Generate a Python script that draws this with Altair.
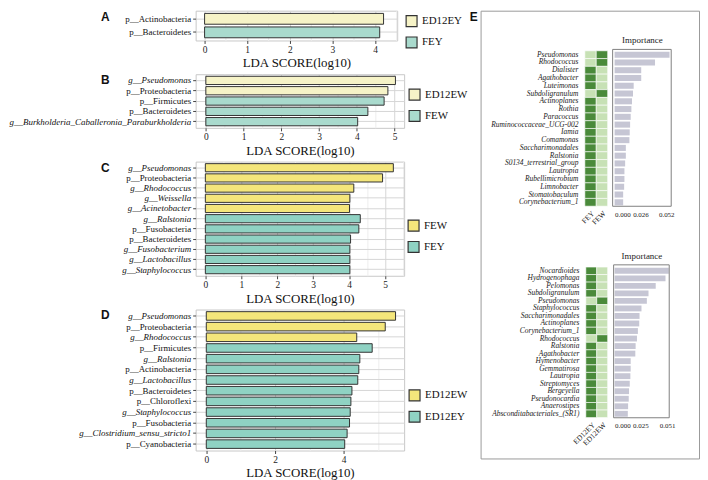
import altair as alt
import pandas as pd

SERIF = "Liberation Serif"
SANS = "Liberation Sans"

# ---------------- Panel A ----------------
A_taxa = ["p__Actinobacteria", "p__Bacteroidetes"]
A_lda = [4.20, 4.11]
A_group = ["ED12EY", "FEY"]
A_legend = ["ED12EY", "FEY"]

# ---------------- Panel B ----------------
B_taxa = ["g__Pseudomonas", "p__Proteobacteria", "p__Firmicutes", "p__Bacteroidetes",
          "g__Burkholderia_Caballeronia_Paraburkholderia"]
B_lda = [5.02, 4.82, 4.72, 4.29, 4.02]
B_group = ["ED12EW", "ED12EW", "FEW", "FEW", "FEW"]
B_legend = ["ED12EW", "FEW"]

# ---------------- Panel C ----------------
C_taxa = ["g__Pseudomonas", "p__Proteobacteria", "g__Rhodococcus", "g__Weissella",
          "g__Acinetobacter", "g__Ralstonia", "p__Fusobacteria", "p__Bacteroidetes",
          "g__Fusobacterium", "g__Lactobacillus", "g__Staphylococcus"]
C_lda = [5.23, 4.93, 4.13, 4.02, 4.01, 4.31, 4.27, 4.04, 4.02, 4.02, 4.02]
C_group = ["FEW", "FEW", "FEW", "FEW", "FEW", "FEY", "FEY", "FEY", "FEY", "FEY", "FEY"]
C_legend = ["FEW", "FEY"]

# ---------------- Panel D ----------------
D_taxa = ["g__Pseudomonas", "p__Proteobacteria", "g__Rhodococcus", "p__Firmicutes",
          "g__Ralstonia", "p__Actinobacteria", "g__Lactobacillus", "p__Bacteroidetes",
          "p__Chloroflexi", "g__Staphylococcus", "p__Fusobacteria",
          "g__Clostridium_sensu_stricto1", "p__Cyanobacteria"]
D_lda = [5.51, 5.21, 4.38, 4.83, 4.47, 4.44, 4.41, 4.24, 4.21, 4.19, 4.17, 4.10, 4.03]
D_group = ["ED12EW", "ED12EW", "ED12EW", "ED12EY", "ED12EY", "ED12EY", "ED12EY",
           "ED12EY", "ED12EY", "ED12EY", "ED12EY", "ED12EY", "ED12EY"]
D_legend = ["ED12EW", "ED12EY"]

# ---------------- Panel E (top) ----------------
E1_taxa = ["Pseudomonas", "Rhodococcus", "Dialister", "Agathobacter", "Luteimonas",
           "Subdoligranulum", "Actinoplanes", "Rothia", "Paracoccus",
           "Ruminococcaceae_UCG-002", "Iamia", "Comamonas", "Saccharimonadales",
           "Ralstonia", "S0134_terrestrial_group", "Lautropia", "Rubellimicrobium",
           "Limnobacter", "Stomatobaculum", "Corynebacterium_1"]
E1_importance = [0.0553, 0.0407, 0.0268, 0.0268, 0.0192, 0.0185, 0.0175, 0.0169, 0.0162,
                 0.0156, 0.0152, 0.0149, 0.0113, 0.0113, 0.0106, 0.0099, 0.0099, 0.0096,
                 0.0086, 0.0086]
E1_enriched = ["FEW", "FEW", "FEY", "FEY", "FEY", "FEW", "FEY", "FEY", "FEY", "FEY",
               "FEY", "FEY", "FEY", "FEY", "FEY", "FEY", "FEY", "FEY", "FEY", "FEY"]
E1_cols = ["FEY", "FEW"]
E1_ticks = [0.0, 0.026, 0.052]

# ---------------- Panel E (bottom) ----------------
E2_taxa = ["Nocardioides", "Hydrogenophaga", "Pelomonas", "Subdoligranulum", "Pseudomonas",
           "Staphylococcus", "Saccharimonadales", "Actinoplanes", "Corynebacterium_1",
           "Rhodococcus", "Ralstonia", "Agathobacter", "Hymenobacter", "Gemmatirosa",
           "Lautropia", "Streptomyces", "Bergeyella", "Pseudonocardia", "Anaerostipes",
           "Absconditabacteriales_(SR1)"]
E2_importance = [0.0526, 0.0494, 0.0399, 0.0329, 0.0313, 0.0261, 0.0242, 0.0239, 0.0226,
                 0.0217, 0.0204, 0.0201, 0.0156, 0.0156, 0.0153, 0.0147, 0.0140, 0.0137,
                 0.0131, 0.0128]
E2_enriched = ["ED12EY", "ED12EY", "ED12EY", "ED12EY", "ED12EW", "ED12EY", "ED12EY",
               "ED12EY", "ED12EY", "ED12EW", "ED12EY", "ED12EY", "ED12EY", "ED12EY",
               "ED12EY", "ED12EY", "ED12EY", "ED12EY", "ED12EY", "ED12EY"]
E2_cols = ["ED12EY", "ED12EW"]
E2_ticks = [0.0, 0.025, 0.051]

PALE = ["#f6f3c7", "#a9dacd"]
BRIGHT = ["#f4e67b", "#8fd2c3"]
DARK_GREEN = "#4a8a3a"
LIGHT_GREEN = "#c7e1b5"
BAR_GRAY = "#c6c6d4"


def lda_panel(letter, taxa, vals, groups, legend_domain, colors, xdomain, xvalues, major,
              width, height, legend_x, legend_y):
    df = pd.DataFrame({"taxon": taxa, "lda": vals, "group": groups})
    minor = f"datum.value % {major} != 0"
    bars = alt.Chart(df).mark_bar(stroke="#333333", strokeWidth=1).encode(
        x=alt.X("lda:Q", scale=alt.Scale(domain=xdomain, nice=False, zero=False),
                axis=alt.Axis(title="LDA SCORE(log10)", values=xvalues,
                              labelExpr=f"datum.value % {major} == 0 ? format(datum.value, 'd') : ''",
                              labelOverlap=False, labelFont=SERIF, labelFontSize=9.5,
                              labelColor="#222", labelPadding=1, ticks=True, tickSize=3,
                              tickColor="#444",
                              tickOpacity={"condition": {"test": minor, "value": 0}, "value": 1},
                              grid=True,
                              gridColor={"condition": {"test": minor, "value": "#ededed"},
                                         "value": "#d6d6d6"},
                              domain=False, titleFont=SERIF, titleFontSize=13,
                              titleFontWeight="normal", titleColor="#111", titlePadding=3)),
        y=alt.Y("taxon:N", scale=alt.Scale(domain=taxa, paddingInner=0.2, paddingOuter=0.2),
                axis=alt.Axis(title=None, bandPosition=0.5, grid=True, gridColor="#d6d6d6",
                              ticks=True, tickSize=3, tickColor="#444", domain=False,
                              labelFont=SERIF, labelFontSize=9, labelColor="#111",
                              labelPadding=2, labelLimit=400,
                              labelFontStyle={"condition": {"test": "indexof(datum.value, 'g__') == 0",
                                                            "value": "italic"},
                                              "value": "normal"})),
        color=alt.Color("group:N", scale=alt.Scale(domain=legend_domain, range=colors),
                        legend=alt.Legend(title=None, orient="none", legendX=legend_x,
                                          legendY=legend_y, symbolType="square", symbolSize=121,
                                          symbolStrokeColor="#333", symbolStrokeWidth=1.2,
                                          labelFont=SERIF, labelFontSize=11, labelColor="#111",
                                          rowPadding=4.5, labelOffset=4, padding=0)),
    )
    tag = alt.Chart(pd.DataFrame({"t": [letter]})).mark_text(
        font=SANS, fontWeight="bold", fontSize=12, align="center", baseline="middle",
        color="#111").encode(text="t:N", x=alt.value(-91), y=alt.value(6))
    return alt.layer(bars, tag).properties(
        width=width, height=height,
        view=alt.ViewBackground(stroke="#c8c8c8", strokeWidth=1))


pA = lda_panel("A", A_taxa, A_lda, A_group, A_legend, PALE, [-0.21, 4.52],
               [i * 0.5 for i in range(10)], 1, 203, 30, 211, 4)
pB = lda_panel("B", B_taxa, B_lda, B_group, B_legend, PALE, [-0.27, 5.25],
               [i * 0.5 for i in range(11)], 1, 210, 54, 214, 14)
pC = lda_panel("C", C_taxa, C_lda, C_group, C_legend, BRIGHT, [-0.27, 5.53],
               [i * 0.5 for i in range(12)], 1, 210, 115, 213, 58)
pD = lda_panel("D", D_taxa, D_lda, D_group, D_legend, BRIGHT, [-0.31, 5.76],
               [0, 1, 2, 3, 4, 5], 2, 210, 142, 214, 80)

left = alt.vconcat(pA, pB, pC, pD, spacing=34, bounds="flush").resolve_scale(
    color="independent", x="independent", y="independent")


def heat_df(taxa, enriched, cols):
    rows = []
    for t, e in zip(taxa, enriched):
        for c in cols:
            rows.append({"taxon": t, "col": c, "level": "high" if e == c else "low"})
    return pd.DataFrame(rows)


E_W, E_H = 220, 451


def e_block(taxa, importance, enriched, cols, ticks, heat_x, heat_y, bar_x, bar_max,
            box, axis_y, title_y):
    hd = heat_df(taxa, enriched, cols)
    heat = alt.Chart(hd).mark_rect(stroke="white", strokeWidth=0.6).encode(
        x=alt.X("col:N", scale=alt.Scale(domain=cols, range=heat_x, paddingInner=0,
                                         paddingOuter=0),
                axis=alt.Axis(orient="bottom", offset=-(E_H - axis_y), labelAngle=-45,
                              ticks=False, tickSize=0, domain=False, grid=False, title=None,
                              labelFont=SERIF, labelFontSize=7.5, labelColor="#222",
                              labelPadding=2)),
        y=alt.Y("taxon:N", scale=alt.Scale(domain=taxa, range=heat_y, paddingInner=0,
                                           paddingOuter=0),
                axis=alt.Axis(orient="left", offset=-heat_x[0], ticks=False, tickSize=0,
                              domain=False, grid=False, title=None, labelFontStyle="italic",
                              labelFont=SERIF, labelFontSize=7.5, labelColor="#222",
                              labelPadding=7, labelLimit=300)),
        color=alt.Color("level:N", scale=alt.Scale(domain=["high", "low"],
                                                   range=[DARK_GREEN, LIGHT_GREEN]),
                        legend=None),
    )
    bd = pd.DataFrame({"taxon": taxa, "imp": importance})
    bars = alt.Chart(bd).mark_bar(color=BAR_GRAY).encode(
        x=alt.X("imp:Q", scale=alt.Scale(domain=[0, bar_max], range=bar_x, nice=False,
                                         zero=True),
                axis=alt.Axis(orient="bottom", offset=-(E_H - axis_y), values=ticks,
                              format=".3f", ticks=False, tickSize=0, domain=False, grid=False,
                              title=None, labelFont=SERIF, labelFontSize=7, labelColor="#222",
                              labelPadding=3, labelOverlap=False)),
        y=alt.Y("taxon:N", scale=alt.Scale(domain=taxa, range=heat_y, paddingInner=0.22,
                                           paddingOuter=0.11), axis=None),
    )
    one = pd.DataFrame({"t": ["Importance"]})
    frame = alt.Chart(one).mark_rect(fillOpacity=0, stroke="#808080", strokeWidth=1).encode(
        x=alt.value(box[0]), x2=alt.value(box[1]), y=alt.value(box[2]), y2=alt.value(box[3]))
    title = alt.Chart(one).mark_text(font=SERIF, fontSize=9, color="#222", align="center",
                                     baseline="middle").encode(
        text="t:N", x=alt.value((box[0] + box[1]) / 2 + 0.5), y=alt.value(title_y))
    return [heat, bars, frame, title]


top_layers = e_block(E1_taxa, E1_importance, E1_enriched, E1_cols, E1_ticks,
                     [105, 128], [40.4, 196.9], [135, 192], 0.057,
                     (133, 192, 39, 197), 198, 30)
bot_layers = e_block(E2_taxa, E2_importance, E2_enriched, E2_cols, E2_ticks,
                     [106, 128], [258.2, 409.8], [135, 190.5], 0.0535,
                     (134, 190, 256, 410), 411, 247)

e_tag = alt.Chart(pd.DataFrame({"t": ["E"]})).mark_text(
    font=SANS, fontWeight="bold", fontSize=12, align="center", baseline="middle",
    color="#111").encode(text="t:N", x=alt.value(-7), y=alt.value(6))

E = alt.layer(*top_layers, *bot_layers, e_tag).resolve_scale(
    x="independent", y="independent").properties(
    width=E_W, height=E_H, view=alt.ViewBackground(stroke="#9a9a9a", strokeWidth=1))

chart = alt.hconcat(left, E, spacing=0).properties(
    padding=0, background="white").configure(font=SERIF)

chart.save("out.html", embed_options={"renderer": "svg", "actions": False})
